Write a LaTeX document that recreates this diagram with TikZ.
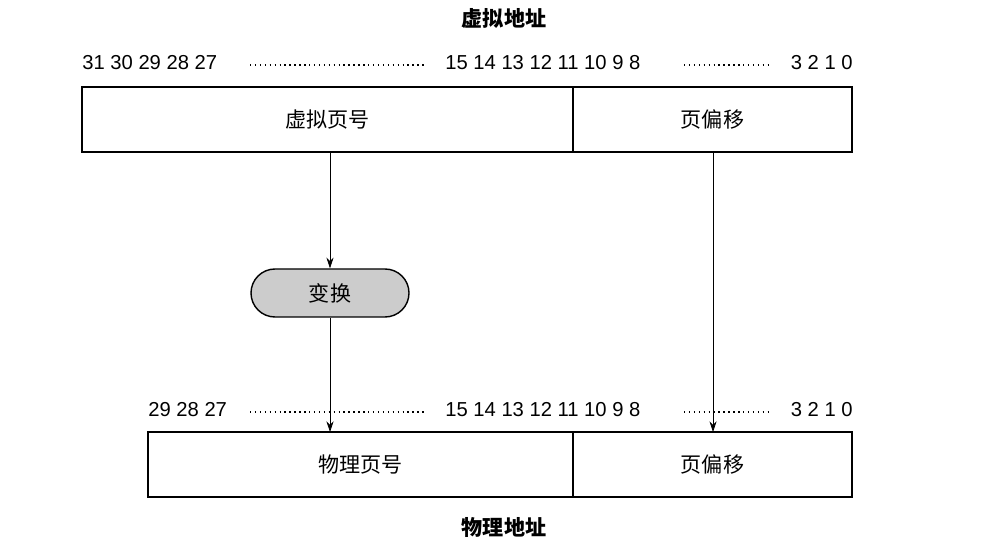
\documentclass[tikz,border=0pt]{standalone}
\usepackage{fontspec}
\setmainfont{Liberation Sans}
\newfontfamily\cjk{Noto Sans CJK SC}
\usetikzlibrary{arrows.meta}
\begin{document}
\begin{tikzpicture}[x=0.02cm, y=-0.02cm, >={Stealth[length=6pt,width=4pt]}]
    \tikzset{%
     field/.style={draw, thick, inner sep=0pt, font=\cjk\fontsize{12}{14}\selectfont},
     bits/.style={font=\fontsize{11.5}{13}\selectfont, inner sep=0pt},
     title/.style={font=\cjk\bfseries\fontsize{12}{14}\selectfont},
     dotline/.style={dotted, line width=0.8pt},
    }
    \useasboundingbox (0,0) rectangle (1003,553);

    % virtual address
    \node [title] (vtitle) at (504,18) {虚拟地址};
    \node [field, minimum width=491*0.02cm, minimum height=65*0.02cm] (vpn) at (327.5,119.5) {虚拟页号};
    \node [field, minimum width=279*0.02cm, minimum height=65*0.02cm] (voff) at (712.5,119.5) {页偏移};
    \node [bits, anchor=west] (vhi) at (82,63) {31 30 29 28 27};
    \node [bits, anchor=west] (vmid) at (445,63) {15 14 13 12 11 10 9 8};
    \node [bits, anchor=east] (vlo) at (853,63) {3 2 1 0};
    \draw [dotline] (250,65) -- (425,65);
    \draw [dotline] (684,65) -- (770,65);

    % physical address
    \node [title] (ptitle) at (504,527) {物理地址};
    \node [field, minimum width=425*0.02cm, minimum height=65*0.02cm] (ppn) at (360.5,464.5) {物理页号};
    \node [field, minimum width=279*0.02cm, minimum height=65*0.02cm] (poff) at (712.5,464.5) {页偏移};
    \node [bits, anchor=west] (phi) at (148,410) {29 28 27};
    \node [bits, anchor=west] (pmid) at (445,410) {15 14 13 12 11 10 9 8};
    \node [bits, anchor=east] (plo) at (853,410) {3 2 1 0};
    \draw [dotline] (250,412) -- (425,412);
    \draw [dotline] (684,412) -- (770,412);

    % translation
    \node [draw, thick, fill=gray!40, rounded corners=24*0.02cm, minimum width=158*0.02cm,
        minimum height=48*0.02cm, font=\cjk\fontsize{12}{14}\selectfont] (xlat) at (330,293) {变换};
    \coordinate (vsrc) at (330,152);
    \coordinate (pdst) at (330,432);
    \coordinate (osrc) at (713,152);
    \coordinate (odst) at (713,432);
    \draw [->] (vsrc) -- (xlat.north);
    \draw [->] (xlat.south) -- (pdst);
    \draw [->] (osrc) -- (odst);
\end{tikzpicture}
\end{document}
